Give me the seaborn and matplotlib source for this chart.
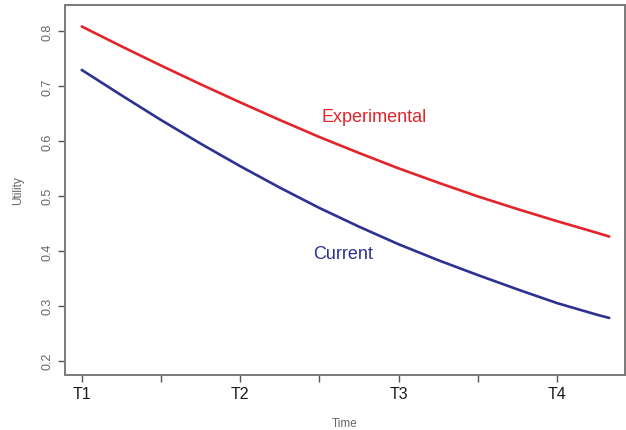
import matplotlib
matplotlib.use("Agg")
import matplotlib.pyplot as plt
import pandas as pd
import seaborn as sns

# values
time = [1.0, 1.25, 1.5, 1.75, 2.0, 2.25, 2.5, 2.75, 3.0, 3.25, 3.5,
        3.75, 4.0, 4.25, 4.33]
experimental = [0.808, 0.772, 0.737, 0.703, 0.670, 0.638, 0.607, 0.578,
                0.550, 0.524, 0.499, 0.476, 0.454, 0.433, 0.426]
current = [0.729, 0.683, 0.638, 0.595, 0.554, 0.515, 0.478, 0.444,
           0.412, 0.383, 0.356, 0.330, 0.305, 0.284, 0.278]
time_ticks = [1, 2, 3, 4]
time_labels = ["T1", "T2", "T3", "T4"]
minor_ticks = [1.5, 2.5, 3.5]
utility_ticks = [0.2, 0.3, 0.4, 0.5, 0.6, 0.7, 0.8]

sns.set_style("white")
plt.rcParams["font.family"] = ["Liberation Sans", "DejaVu Sans"]

df = pd.DataFrame({
    "Time": time * 2,
    "Utility": experimental + current,
    "Group": ["Experimental"] * len(time) + ["Current"] * len(time),
})

red = "#e3242b"
blue = "#2e3192"

fig = plt.figure(figsize=(6.26, 4.31), dpi=100)
ax = fig.add_axes([0.104, 0.128, 0.894, 0.858])
sns.lineplot(data=df, x="Time", y="Utility", hue="Group",
             palette={"Experimental": red, "Current": blue},
             linewidth=1.9, legend=False, ax=ax)

ax.text(2.516, 0.645, "Experimental", color=red, fontsize=13, va="center")
ax.text(2.46, 0.395, "Current", color=blue, fontsize=13, va="center")

ax.set_xlim(0.895, 4.428)
ax.set_ylim(0.1745, 0.847)
ax.set_xticks(time_ticks)
ax.set_xticklabels(time_labels, fontsize=11.5, color="#1a1a1a")
ax.set_xticks(minor_ticks, minor=True)
ax.set_yticks(utility_ticks)
ax.set_yticklabels([f"{v:.1f}" for v in utility_ticks], rotation=90,
                   va="center", fontsize=9, color="#666666")
ax.tick_params(axis="both", which="both", direction="out", length=5,
               width=1.0, color="#555555", bottom=True, left=True)
ax.tick_params(axis="x", pad=3)

# axis titles sit where the reference puts them
ax.set_xlabel("Time", fontsize=8.5, color="#666666", va="center")
ax.xaxis.set_label_coords(0.5, -0.13)
ax.set_ylabel("Utility", fontsize=8.5, color="#666666", va="center")
ax.yaxis.set_label_coords(-0.084, 0.5)

for side in ["left", "bottom", "top", "right"]:
    ax.spines[side].set_color("#7a7a7a")
    ax.spines[side].set_linewidth(1.4)

fig.savefig("out.png", dpi=100)
